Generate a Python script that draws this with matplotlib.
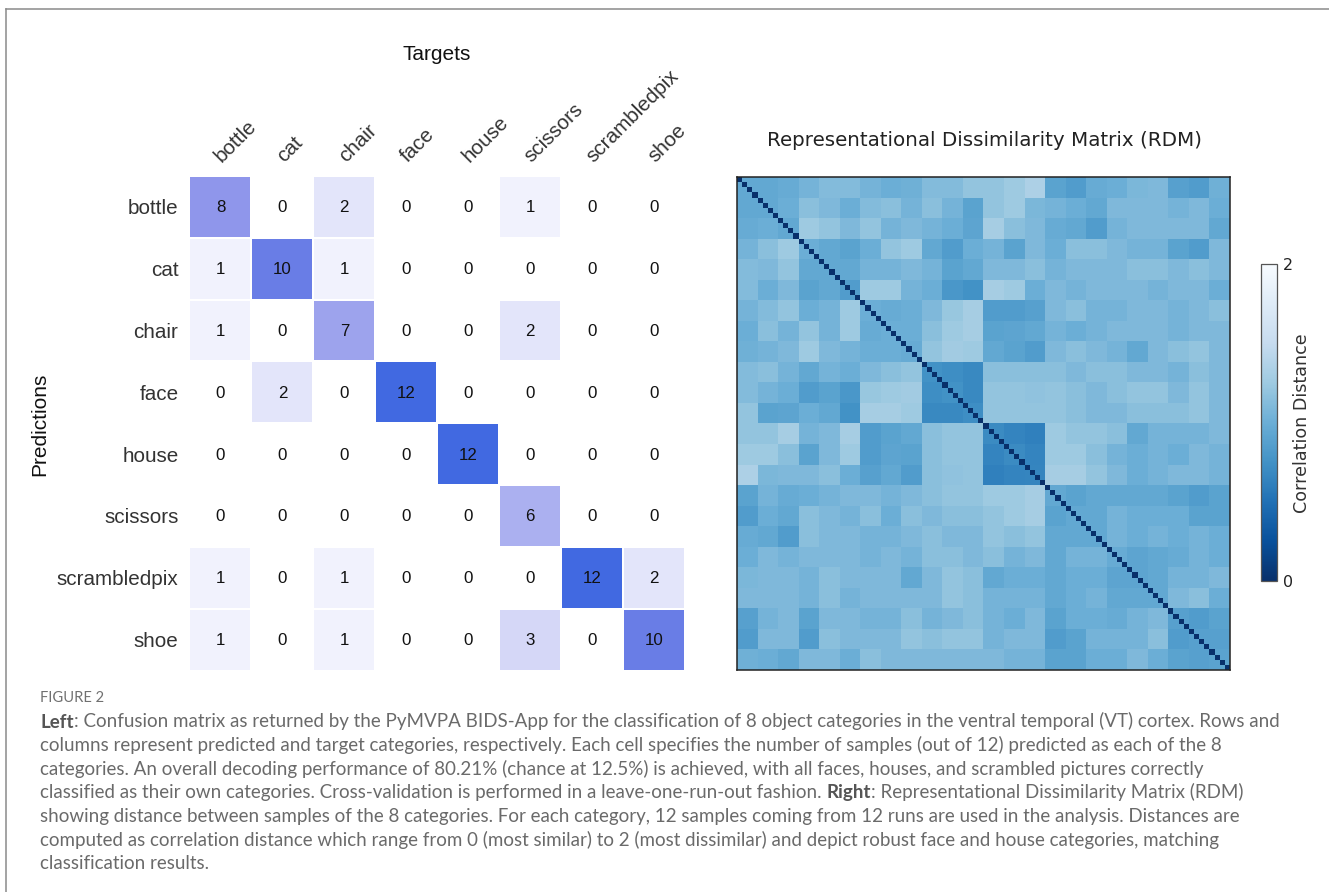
import numpy as np
import matplotlib
matplotlib.use("Agg")
import matplotlib.pyplot as plt
from matplotlib.colors import LinearSegmentedColormap
from matplotlib.lines import Line2D
from matplotlib.transforms import ScaledTranslation

W, H = 1329, 892

categories = ["bottle", "cat", "chair", "face", "house", "scissors", "scrambledpix", "shoe"]
confusion = [
    [8, 0, 2, 0, 0, 1, 0, 0],
    [1, 10, 1, 0, 0, 0, 0, 0],
    [1, 0, 7, 0, 0, 2, 0, 0],
    [0, 2, 0, 12, 0, 0, 0, 0],
    [0, 0, 0, 0, 12, 0, 0, 0],
    [0, 0, 0, 0, 0, 6, 0, 0],
    [1, 0, 1, 0, 0, 0, 12, 2],
    [1, 0, 1, 0, 0, 3, 0, 10],
]
# RDM in groups of 4 samples (upper triangle, row by row).
rdm_groups_upper = [
    [0.95,0.95,0.98,1.05,1.12,1.12,1.05,1.0,1.02,1.12,1.12,1.2,1.2,1.25,1.35,0.9,0.85,0.98,1.0,1.08,1.1,0.88,0.85,1.02],
    [0.95,1.0,1.15,1.1,1.0,1.12,1.15,1.05,1.15,1.05,0.9,1.2,1.25,1.08,1.05,1.0,0.95,1.1,1.1,1.1,1.05,1.1,1.0],
    [0.95,1.25,1.2,1.1,1.2,1.05,1.1,1.05,1.0,0.92,1.3,1.15,1.1,0.98,0.95,0.85,1.05,1.1,1.1,1.1,1.1,0.95],
    [1.0,0.95,0.9,1.0,1.2,1.25,0.95,0.85,1.0,1.05,0.9,1.1,1.0,1.15,1.15,1.1,1.05,1.05,0.9,0.85,1.1],
    [0.95,0.95,1.05,1.05,1.1,1.05,0.9,0.95,1.1,1.1,1.15,1.05,1.1,1.1,1.1,1.15,1.15,1.1,1.15,1.1],
    [0.85,1.25,1.25,1.05,1.0,0.8,0.75,1.3,1.25,1.0,1.1,1.05,1.1,1.1,1.1,1.05,1.1,1.1,1.0],
    [1.0,0.98,1.0,1.1,1.22,1.3,0.85,0.85,0.88,1.1,1.15,1.05,1.05,1.1,1.1,1.05,1.1,1.15],
    [1.0,1.0,1.15,1.25,1.3,0.9,0.92,0.95,1.05,1.0,1.05,1.1,1.1,1.1,1.05,1.1,1.1],
    [0.98,1.2,1.28,1.25,0.95,0.9,0.85,1.1,1.15,1.1,1.05,0.95,1.1,1.15,1.2,1.1],
    [0.75,0.72,0.68,1.15,1.15,1.15,1.15,1.1,1.15,1.15,1.1,1.1,1.05,1.15,1.1],
    [0.75,0.68,1.2,1.2,1.18,1.2,1.15,1.1,1.15,1.2,1.2,1.1,1.2,1.1],
    [0.72,1.2,1.2,1.2,1.2,1.15,1.1,1.1,1.15,1.15,1.15,1.2,1.1],
    [0.7,0.65,0.62,1.25,1.2,1.2,1.15,0.95,1.05,1.05,1.05,1.1],
    [0.7,0.65,1.25,1.25,1.15,1.05,1.0,1.05,1.0,1.1,1.05],
    [0.66,1.3,1.3,1.2,1.1,1.0,1.05,1.1,1.1,1.05],
    [0.95,0.9,0.95,0.95,0.95,0.95,0.9,0.85,0.9],
    [0.95,0.95,1.05,1.0,1.0,1.0,0.9,0.9],
    [0.95,1.05,1.0,1.05,1.0,1.05,1.0],
    [0.98,0.92,0.95,0.98,1.05,1.0],
    [0.92,0.95,1.05,1.05,1.1],
    [0.95,1.1,1.15,1.0],
    [0.88,0.85,0.9],
    [0.88,0.88],
    [0.9],
]
caption_lines = [
    [("Left", True), (": Confusion matrix as returned by the PyMVPA BIDS-App for the classification of 8 object categories in the ventral temporal (VT) cortex. Rows and", False)],
    [("columns represent predicted and target categories, respectively. Each cell specifies the number of samples (out of 12) predicted as each of the 8", False)],
    [("categories. An overall decoding performance of 80.21% (chance at 12.5%) is achieved, with all faces, houses, and scrambled pictures correctly", False)],
    [("classified as their own categories. Cross-validation is performed in a leave-one-run-out fashion. ", False), ("Right", True), (": Representational Dissimilarity Matrix (RDM)", False)],
    [("showing distance between samples of the 8 categories. For each category, 12 samples coming from 12 runs are used in the analysis. Distances are", False)],
    [("computed as correlation distance which range from 0 (most similar) to 2 (most dissimilar) and depict robust face and house categories, matching", False)],
    [("classification results.", False)],
]

def px_axes(fig, x0, y0, x1, y1):
    return fig.add_axes([x0 / W, 1 - y1 / H, (x1 - x0) / W, (y1 - y0) / H])

fig = plt.figure(figsize=(W / 100, H / 100), dpi=100, facecolor="white")
HELV = "Liberation Sans"

# frame of the page
for xs, ys in [((5.5, 5.5), (8.5, H)), ((5.5, W), (8.5, 8.5))]:
    fig.add_artist(Line2D([x / W for x in xs], [1 - y / H for y in ys], color="#8a8a8a", lw=1.1))

# Confusion matrix
conf = np.array(confusion)
conf_cmap = LinearSegmentedColormap.from_list(
    "conf", [(0, "#ffffff"), (8 / 12, "#8f96eb"), (10 / 12, "#697de6"), (1, "#4169e1")])
ax = px_axes(fig, 189.5, 176, 685, 670.5)
ax.pcolormesh(conf, cmap=conf_cmap, vmin=0, vmax=12, edgecolors="white", linewidth=0.25)
ax.set_xlim(0, 8)
ax.set_ylim(8, 0)
for r in range(8):
    for c in range(8):
        ax.text(c + 0.5, r + 0.515, str(conf[r, c]), ha="center", va="center",
                fontsize=12.2, family=HELV, color="#111111")
ax.xaxis.tick_top()
ax.set_xticks(np.arange(8) + 0.5)
ax.set_yticks(np.arange(8) + 0.5)
ax.set_xticklabels(categories, rotation=45, ha="left", va="bottom", rotation_mode="anchor",
                   fontsize=14.9, family=HELV, color="#333333")
ax.set_yticklabels(categories, fontsize=14.9, family=HELV, color="#333333")
ax.tick_params(axis="y", length=0, pad=8)
ax.tick_params(axis="x", length=0, pad=7)
shift_right = ScaledTranslation(4.5 / 100, 0, fig.dpi_scale_trans)
for lab in ax.get_xticklabels():
    lab.set_transform(lab.get_transform() + shift_right)
for s in ax.spines.values():
    s.set_visible(False)
fig.text(437 / W, 1 - 55 / H, "Targets", ha="center", va="center", fontsize=15, family=HELV, color="#111111")
fig.text(40 / W, 1 - 424 / H, "Predictions", ha="center", va="center", rotation=90, fontsize=15, family=HELV, color="#111111")

# RDM
groups = np.zeros((24, 24))
for i, row in enumerate(rdm_groups_upper):
    for k, v in enumerate(row):
        groups[i, i + k] = v
        groups[i + k, i] = v
rdm = np.kron(groups, np.ones((4, 4)))
np.fill_diagonal(rdm, 0)
ax2 = px_axes(fig, 737, 177, 1230, 670)
im = ax2.imshow(rdm, cmap="Blues_r", vmin=0, vmax=2, interpolation="nearest", aspect="auto")
ax2.set_xticks([])
ax2.set_yticks([])
for s in ax2.spines.values():
    s.set_linewidth(1.1)
    s.set_color("#222222")
fig.text(984.5 / W, 1 - 140 / H, "Representational Dissimilarity Matrix (RDM)", ha="center", va="center",
         fontsize=14.3, color="#222222")

# Colour bar
cax = px_axes(fig, 1261, 264, 1277, 581)
cb = fig.colorbar(im, cax=cax, ticks=[0, 2])
cb.ax.tick_params(length=0, pad=4, labelsize=11.5, labelcolor="#222222")
cb.outline.set_edgecolor("#555555")
cb.outline.set_linewidth(0.9)
fig.text(1302 / W, 1 - 423 / H, "Correlation Distance", ha="center", va="center", rotation=90,
         fontsize=12.6, color="#333333")

# Caption
CAP = "#6a6a6a"
fig.text(40 / W, 1 - 698 / H, "FIGURE 2", ha="left", va="center", fontsize=10.6, family="Lato", color="#707070")
line_base = [727.5, 751, 774.7, 798.3, 822, 845.7, 869.4]
for y, segs in zip(line_base, caption_lines):
    x = 40.0
    for txt, bold in segs:
        t = fig.text(x / W, 1 - y / H, txt, ha="left", va="baseline", fontsize=13.5, family="Lato",
                     color="#555555" if bold else CAP, weight="bold" if bold else "normal")
        x += fig.canvas.get_renderer().get_text_width_height_descent(
            txt.replace(" ", "\u00a0"), t.get_fontproperties(), False)[0]

fig.savefig("out.png", dpi=100, facecolor="white")
